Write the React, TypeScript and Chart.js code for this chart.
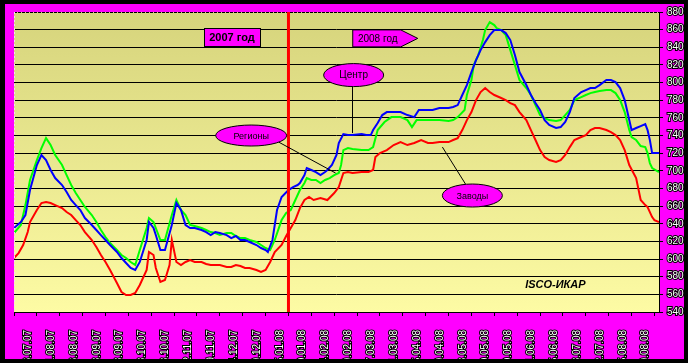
import React, { useEffect, useRef } from 'react';
import { Chart, registerables } from 'chart.js';

Chart.register(...registerables);

// ---- data (trading-day index on x, price on y) ----
const dateLabels = [
  '16.07.07', '01.08.07', '16.08.07', '03.09.07', '18.09.07', '03.10.07', '18.10.07',
  '02.11.07', '19.11.07', '04.12.07', '19.12.07', '15.01.08', '30.01.08', '14.02.08',
  '29.02.08', '17.03.08', '31.03.08', '15.04.08', '29.04.08', '08.05.08', '20.05.08',
  '30.05.08', '11.06.08', '25.06.08', '08.07.08', '22.07.08', '05.08.08', '19.08.08',
];

const centerDays = [0, 3, 5, 7, 10, 12, 14, 16, 18, 21, 23, 25, 27, 29, 31, 34, 36, 38, 40, 42, 45, 47, 49, 51, 53, 55, 58, 59, 61, 62, 64, 66, 69, 71, 73, 75, 77, 79, 82, 84, 86, 88, 90, 93, 95, 97, 99, 101, 103, 106, 108, 110, 111, 113, 115, 117, 120, 122, 124, 125, 127, 128, 130, 132, 134, 136, 137, 139, 141, 142, 144, 146, 148, 152, 154, 156, 157, 159, 161, 163, 166, 169, 172, 175, 177, 180, 183, 186, 190, 192, 194, 196, 198, 200, 202, 204, 206, 208, 210, 213, 215, 217, 219, 221, 224, 226, 228, 230, 232, 234, 237, 239, 241, 243, 245, 248, 250, 252, 254, 256, 259, 261, 263, 265, 267, 269, 270, 272, 274, 276, 277, 278, 279, 282];
const centerValues = [6352, 6420, 6499, 6782, 7066, 7179, 7122, 7009, 6918, 6839, 6760, 6669, 6612, 6556, 6465, 6386, 6329, 6272, 6216, 6159, 6080, 6012, 5955, 5899, 5876, 5967, 6216, 6420, 6352, 6272, 6102, 6102, 6386, 6635, 6556, 6386, 6352, 6352, 6329, 6306, 6272, 6306, 6295, 6272, 6238, 6261, 6216, 6216, 6193, 6159, 6125, 6102, 6080, 6216, 6556, 6703, 6782, 6816, 6839, 6862, 6952, 7032, 7009, 6986, 6952, 6986, 7009, 7066, 7179, 7315, 7417, 7405, 7405, 7417, 7405, 7405, 7462, 7541, 7632, 7666, 7666, 7666, 7632, 7609, 7689, 7689, 7689, 7711, 7711, 7723, 7745, 7859, 7972, 8119, 8255, 8368, 8459, 8538, 8595, 8595, 8561, 8482, 8312, 8119, 7972, 7859, 7768, 7689, 7575, 7519, 7485, 7496, 7553, 7666, 7825, 7893, 7915, 7938, 7938, 7972, 8029, 8029, 8006, 7938, 7802, 7575, 7462, 7485, 7507, 7530, 7462, 7349, 7201, 7201];

const regionDays = [0, 3, 5, 7, 10, 12, 14, 16, 18, 21, 23, 25, 27, 29, 31, 34, 36, 38, 40, 42, 45, 47, 49, 51, 53, 55, 58, 59, 61, 62, 64, 66, 69, 71, 73, 75, 77, 79, 82, 84, 86, 88, 90, 93, 95, 97, 99, 101, 103, 106, 108, 110, 112, 114, 117, 119, 121, 123, 125, 127, 128, 130, 132, 134, 136, 138, 140, 142, 143, 144, 146, 148, 152, 155, 157, 159, 162, 165, 167, 169, 172, 174, 176, 180, 183, 186, 190, 192, 194, 197, 198, 200, 201, 203, 205, 206, 208, 210, 211, 213, 215, 217, 219, 221, 224, 226, 228, 230, 232, 234, 237, 239, 241, 243, 245, 248, 250, 252, 254, 256, 259, 261, 263, 265, 267, 269, 270, 272, 274, 276, 277, 278, 279, 282];
const regionValues = [6295, 6386, 6612, 6896, 7122, 7258, 7371, 7292, 7179, 7066, 6952, 6839, 6748, 6669, 6590, 6499, 6420, 6329, 6250, 6182, 6102, 6046, 6012, 5967, 5933, 6102, 6352, 6465, 6420, 6352, 6216, 6216, 6499, 6669, 6556, 6499, 6386, 6374, 6352, 6329, 6306, 6295, 6272, 6295, 6295, 6261, 6238, 6238, 6216, 6193, 6159, 6125, 6102, 6216, 6442, 6522, 6556, 6669, 6782, 6862, 6918, 6896, 6896, 6862, 6896, 6918, 6952, 6975, 7066, 7235, 7258, 7247, 7235, 7235, 7269, 7462, 7553, 7609, 7609, 7609, 7575, 7496, 7575, 7575, 7575, 7575, 7564, 7575, 7609, 7689, 7859, 8029, 8199, 8312, 8482, 8595, 8686, 8652, 8618, 8595, 8538, 8368, 8199, 8029, 7938, 7859, 7745, 7632, 7598, 7575, 7564, 7575, 7632, 7689, 7802, 7836, 7859, 7881, 7893, 7904, 7915, 7915, 7881, 7802, 7666, 7462, 7383, 7349, 7281, 7269, 7201, 7088, 7032, 6986];

const plantDays = [0, 2, 4, 6, 7, 10, 12, 14, 16, 18, 21, 23, 25, 27, 29, 31, 34, 36, 38, 40, 42, 45, 47, 49, 51, 53, 55, 58, 59, 61, 62, 64, 66, 68, 69, 71, 73, 75, 77, 79, 82, 84, 86, 88, 90, 93, 95, 97, 99, 101, 103, 106, 108, 110, 112, 114, 117, 119, 121, 123, 125, 127, 129, 131, 134, 137, 140, 142, 144, 146, 148, 152, 155, 157, 158, 160, 163, 166, 169, 172, 175, 178, 181, 183, 186, 190, 192, 194, 196, 198, 200, 202, 204, 206, 208, 210, 213, 215, 217, 219, 221, 224, 226, 228, 230, 232, 234, 237, 239, 241, 243, 245, 248, 250, 252, 254, 256, 259, 261, 263, 265, 267, 269, 272, 274, 276, 277, 279, 280, 282];
const plantValues = [6012, 6068, 6159, 6306, 6420, 6556, 6635, 6646, 6635, 6612, 6578, 6533, 6499, 6442, 6386, 6306, 6216, 6136, 6046, 5967, 5876, 5729, 5627, 5593, 5593, 5615, 5706, 5876, 6080, 6046, 5899, 5740, 5763, 5933, 6216, 5967, 5933, 5967, 5989, 5967, 5967, 5944, 5933, 5933, 5933, 5910, 5910, 5933, 5921, 5899, 5899, 5876, 5853, 5876, 5967, 6080, 6159, 6261, 6352, 6442, 6578, 6669, 6703, 6669, 6691, 6669, 6748, 6816, 6975, 6986, 6975, 6986, 6986, 7009, 7156, 7201, 7235, 7292, 7326, 7292, 7315, 7349, 7315, 7315, 7326, 7326, 7349, 7371, 7462, 7575, 7666, 7802, 7893, 7938, 7893, 7859, 7825, 7802, 7768, 7745, 7666, 7575, 7462, 7349, 7235, 7156, 7122, 7100, 7122, 7179, 7269, 7349, 7383, 7405, 7462, 7485, 7485, 7462, 7439, 7405, 7349, 7235, 7066, 6918, 6669, 6612, 6590, 6476, 6442, 6420];

const seriesNames = ['Центр', 'Регионы', 'Заводы'];
const yearSplitDay = 120;
const dayMax = 282;
const yMin = 5400;
const yMax = 8800;
const yStep = 200;
const tickMarkStep = 10;

// annotation anchors (data coordinates)
const box2007 = { text: '2007 год', day: 95.3, value: 8513 };
const arrow2008 = { text: '2008 год', day: 148.1, value: 8501 };
const calloutCenter = { text: 'Центр', day: 148.5, value: 8085, fromDay: 148, fromValue: 7955, toDay: 148, toValue: 7428 };
const calloutRegion = { text: 'Регионы', day: 103.7, value: 7400, fromDay: 115.7, fromValue: 7326, toDay: 140.6, toValue: 6975 };
const calloutPlant = { text: 'Заводы', day: 200.4, value: 6720, fromDay: 197.4, fromValue: 6850, toDay: 187.3, toValue: 7269 };
const sourceLabel = { text: 'ISCO-ИКАР', day: 236.7, value: 5706 };

const FONT = "'Liberation Sans', Arial, sans-serif";
const LABEL_NUDGE = 1.2; // days, visual centering of rotated labels

const decor = {
  id: 'decor',
  beforeDraw(chart: any) {
    const { ctx, width, height, chartArea: a } = chart;
    ctx.save();
    ctx.fillStyle = '#ff00ff';
    ctx.fillRect(0, 0, width, height);
    const g = ctx.createLinearGradient(0, a.top, 0, a.bottom);
    g.addColorStop(0, '#d6d47c');
    g.addColorStop(1, '#fdfba4');
    ctx.fillStyle = g;
    ctx.fillRect(a.left, a.top, a.right - a.left, a.bottom - a.top);
    ctx.restore();
  },
  afterDatasetsDraw(chart: any) {
    const { ctx, chartArea: a, scales } = chart;
    const X = (d: number) => scales.x.getPixelForValue(d);
    const Y = (v: number) => scales.y.getPixelForValue(v);
    ctx.save();
    ctx.strokeStyle = '#000';
    ctx.lineWidth = 1;
    ctx.setLineDash([3, 1]);
    ctx.beginPath();
    ctx.moveTo(a.left, a.top + 0.5);
    ctx.lineTo(a.right, a.top + 0.5);
    ctx.stroke();
    ctx.strokeStyle = '#f4d8f4';
    ctx.setLineDash([2, 2]);
    ctx.beginPath();
    ctx.moveTo(a.left + 0.5, a.top);
    ctx.lineTo(a.left + 0.5, a.bottom);
    ctx.stroke();
    ctx.setLineDash([]);

    ctx.strokeStyle = '#ff0000';
    ctx.lineWidth = 3;
    ctx.beginPath();
    ctx.moveTo(X(yearSplitDay), a.top);
    ctx.lineTo(X(yearSplitDay), a.bottom);
    ctx.stroke();

    ctx.strokeStyle = '#000';
    ctx.lineWidth = 1;
    [calloutCenter, calloutRegion, calloutPlant].forEach((c) => {
      ctx.beginPath();
      ctx.moveTo(X(c.fromDay), Y(c.fromValue));
      ctx.lineTo(X(c.toDay), Y(c.toValue));
      ctx.stroke();
    });

    {
      const cx = X(box2007.day), cy = Y(box2007.value);
      const w = 56, h = 18;
      ctx.fillStyle = '#ff00ff';
      ctx.fillRect(cx - w / 2, cy - h / 2, w, h);
      ctx.strokeStyle = '#000';
      ctx.strokeRect(Math.round(cx - w / 2) + 0.5, Math.round(cy - h / 2) + 0.5, w, h);
      ctx.font = `bold 11px ${FONT}`;
      ctx.textAlign = 'center';
      ctx.textBaseline = 'middle';
      ctx.fillStyle = '#000';
      ctx.fillText(box2007.text, cx, cy + 0.5);
    }
    {
      const lx = X(arrow2008.day), cy = Y(arrow2008.value);
      const bodyW = 48, tipW = 17, h = 17;
      ctx.beginPath();
      ctx.moveTo(lx, cy - h / 2);
      ctx.lineTo(lx + bodyW, cy - h / 2);
      ctx.lineTo(lx + bodyW + tipW, cy);
      ctx.lineTo(lx + bodyW, cy + h / 2);
      ctx.lineTo(lx, cy + h / 2);
      ctx.closePath();
      ctx.fillStyle = '#ff00ff';
      ctx.fill();
      ctx.strokeStyle = '#000';
      ctx.stroke();
      ctx.font = `10px ${FONT}`;
      ctx.textAlign = 'center';
      ctx.textBaseline = 'middle';
      ctx.fillStyle = '#000';
      ctx.fillText(arrow2008.text, lx + 25, cy + 1);
    }
    const ell = (c: any, rx: number, ry: number, size: number) => {
      const cx = X(c.day), cy = Y(c.value);
      ctx.beginPath();
      ctx.ellipse(cx, cy, rx, ry, 0, 0, Math.PI * 2);
      ctx.fillStyle = '#ff00ff';
      ctx.fill();
      ctx.strokeStyle = '#000';
      ctx.lineWidth = 1;
      ctx.stroke();
      ctx.font = `${size}px ${FONT}`;
      ctx.textAlign = 'center';
      ctx.textBaseline = 'middle';
      ctx.fillStyle = '#000';
      ctx.fillText(c.text, cx, cy + 0.5);
    };
    ell(calloutCenter, 30, 11.5, 10);
    ell(calloutRegion, 35.5, 10.5, 9);
    ell(calloutPlant, 30, 11.5, 9);

    ctx.font = `italic bold 11px ${FONT}`;
    ctx.textAlign = 'center';
    ctx.textBaseline = 'middle';
    ctx.fillStyle = '#000';
    ctx.fillText(sourceLabel.text, X(sourceLabel.day), Y(sourceLabel.value));
    ctx.restore();
  },
  afterDraw(chart: any) {
    const { ctx, width, height } = chart;
    ctx.save();
    ctx.fillStyle = '#000';
    ctx.fillRect(0, 0, 5, height);
    ctx.fillRect(0, 0, width, 4);
    ctx.fillRect(width - 4, 0, 4, height);
    ctx.fillRect(0, height - 4, width, 4);
    ctx.restore();
  },
};

export default function App() {
  const ref = useRef<HTMLCanvasElement>(null);
  useEffect(() => {
    document.body.style.margin = '0';
    document.body.style.overflow = 'hidden';
    const toPts = (d: number[], v: number[]) => d.map((x, i) => ({ x, y: v[i] }));
    const chart = new Chart(ref.current!, {
      type: 'line',
      data: {
        datasets: [
          { label: seriesNames[0], data: toPts(centerDays, centerValues), borderColor: '#0000ff' },
          { label: seriesNames[1], data: toPts(regionDays, regionValues), borderColor: '#00ff00' },
          { label: seriesNames[2], data: toPts(plantDays, plantValues), borderColor: '#ff0000' },
        ],
      },
      options: {
        animation: false,
        responsive: false,
        maintainAspectRatio: false,
        layout: { padding: { left: 13, top: 12, right: 0, bottom: 0 } },
        plugins: { legend: { display: false }, tooltip: { enabled: false } },
        elements: { point: { radius: 0 }, line: { tension: 0, borderWidth: 2 } },
        scales: {
          x: {
            type: 'linear',
            min: 0,
            max: dayMax,
            position: 'bottom',
            afterBuildTicks: (axis: any) => {
              const ticks: any[] = [];
              for (let v = 0; v <= dayMax; v += tickMarkStep) ticks.push({ value: v, text: '' });
              dateLabels.forEach((t, k) => ticks.push({ value: tickMarkStep * k + tickMarkStep / 2 + LABEL_NUDGE, text: t }));
              ticks.sort((p, q) => p.value - q.value);
              axis.ticks = ticks;
            },
            afterFit: (axis: any) => {
              axis.height = 51;
            },
            grid: {
              drawOnChartArea: false,
              drawTicks: true,
              tickLength: 4,
              color: 'rgba(0,0,0,0)',
              tickColor: (c: any) => (c.tick && !c.tick.text ? '#000' : 'rgba(0,0,0,0)'),
            },
            border: { display: true, color: '#000', width: 1 },
            ticks: {
              autoSkip: false,
              minRotation: 90,
              maxRotation: 90,
              padding: 14,
              font: { family: FONT, size: 10 },
              color: '#ffffff',
              textStrokeColor: '#000',
              textStrokeWidth: 2,
              callback: function (this: any, _v: any, i: number, ticks: any[]) {
                return ticks[i] && ticks[i].text ? ticks[i].text : '';
              },
            },
          },
          y: {
            position: 'right',
            min: yMin,
            max: yMax,
            afterFit: (axis: any) => {
              axis.width = 29;
            },
            grid: {
              color: (c: any) => (c.tick && c.tick.value === yMax ? 'rgba(0,0,0,0)' : '#000'),
              lineWidth: 1,
              tickLength: 4,
              tickColor: '#000',
            },
            border: { display: true, color: '#000', width: 1 },
            ticks: {
              stepSize: yStep,
              padding: 4,
              font: { family: FONT, size: 10 },
              color: '#ffffff',
              textStrokeColor: '#000',
              textStrokeWidth: 2,
              callback: (v: any) => String(v),
            },
          },
        },
      },
      plugins: [decor],
    } as any);
    return () => chart.destroy();
  }, []);
  return (
    <div style={{ width: 688, height: 363, overflow: 'hidden' }}>
      <canvas ref={ref} width={688} height={363} style={{ display: 'block', width: 688, height: 363 }} />
    </div>
  );
}
